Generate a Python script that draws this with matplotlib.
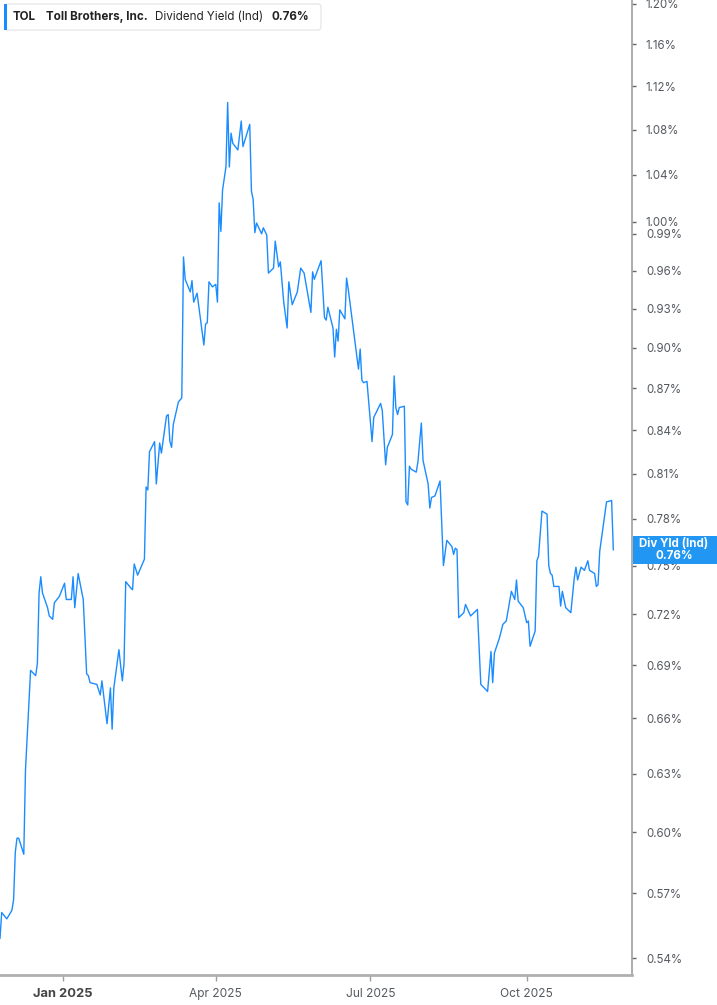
import matplotlib
matplotlib.use("Agg")
import matplotlib.pyplot as plt
from matplotlib.patches import FancyBboxPatch, Rectangle
from matplotlib.ticker import FixedLocator, FixedFormatter, NullLocator
import pandas as pd

plt.rcParams['font.family'] = ['Inter', 'DejaVu Sans']

ticker = 'TOL'
company = 'Toll Brothers, Inc.'
metric = 'Dividend Yield (Ind)'
last_label = '0.76%'

dates = [
    '2024-11-25', '2024-11-26', '2024-11-29', '2024-12-02', '2024-12-03', '2024-12-04',
    '2024-12-05', '2024-12-06', '2024-12-09', '2024-12-10', '2024-12-13', '2024-12-16',
    '2024-12-17', '2024-12-18', '2024-12-19', '2024-12-20', '2024-12-23', '2024-12-24',
    '2024-12-26', '2024-12-27', '2024-12-30', '2025-01-02', '2025-01-03', '2025-01-06',
    '2025-01-07', '2025-01-08', '2025-01-10', '2025-01-13', '2025-01-15', '2025-01-16',
    '2025-01-17', '2025-01-21', '2025-01-23', '2025-01-24', '2025-01-27', '2025-01-29',
    '2025-01-30', '2025-01-31', '2025-02-03', '2025-02-05', '2025-02-06', '2025-02-07',
    '2025-02-10', '2025-02-11', '2025-02-12', '2025-02-14', '2025-02-18', '2025-02-19',
    '2025-02-20', '2025-02-21', '2025-02-24', '2025-02-25', '2025-02-27', '2025-02-28',
    '2025-03-03', '2025-03-04', '2025-03-05', '2025-03-06', '2025-03-07', '2025-03-10',
    '2025-03-12', '2025-03-13', '2025-03-14', '2025-03-17', '2025-03-18', '2025-03-19',
    '2025-03-21', '2025-03-25', '2025-03-26', '2025-03-27', '2025-03-28', '2025-03-30',
    '2025-04-01', '2025-04-02', '2025-04-03', '2025-04-04', '2025-04-05', '2025-04-07',
    '2025-04-08', '2025-04-09', '2025-04-10', '2025-04-11', '2025-04-14', '2025-04-16',
    '2025-04-17', '2025-04-21', '2025-04-22', '2025-04-23', '2025-04-24', '2025-04-25',
    '2025-04-28', '2025-04-29', '2025-05-01', '2025-05-02', '2025-05-05', '2025-05-06',
    '2025-05-08', '2025-05-09', '2025-05-11', '2025-05-13', '2025-05-14', '2025-05-16',
    '2025-05-19', '2025-05-21', '2025-05-23', '2025-05-27', '2025-05-28', '2025-05-29',
    '2025-06-02', '2025-06-04', '2025-06-05', '2025-06-06', '2025-06-09', '2025-06-10',
    '2025-06-11', '2025-06-12', '2025-06-13', '2025-06-16', '2025-06-17', '2025-06-18',
    '2025-06-24', '2025-06-25', '2025-06-26', '2025-06-27', '2025-06-29', '2025-07-02',
    '2025-07-03', '2025-07-07', '2025-07-08', '2025-07-10', '2025-07-11', '2025-07-14',
    '2025-07-15', '2025-07-16', '2025-07-17', '2025-07-18', '2025-07-21', '2025-07-22',
    '2025-07-23', '2025-07-24', '2025-07-25', '2025-07-28', '2025-07-29', '2025-07-31',
    '2025-08-01', '2025-08-04', '2025-08-05', '2025-08-06', '2025-08-08', '2025-08-11',
    '2025-08-13', '2025-08-15', '2025-08-18', '2025-08-19', '2025-08-20', '2025-08-21',
    '2025-08-22', '2025-08-25', '2025-08-26', '2025-08-29', '2025-09-02', '2025-09-04',
    '2025-09-08', '2025-09-10', '2025-09-11', '2025-09-12', '2025-09-15', '2025-09-17',
    '2025-09-19', '2025-09-22', '2025-09-24', '2025-09-25', '2025-09-26', '2025-09-29',
    '2025-10-01', '2025-10-02', '2025-10-03', '2025-10-06', '2025-10-07', '2025-10-08',
    '2025-10-10', '2025-10-13', '2025-10-14', '2025-10-15', '2025-10-16', '2025-10-17',
    '2025-10-20', '2025-10-21', '2025-10-22', '2025-10-24', '2025-10-27', '2025-10-29',
    '2025-10-30', '2025-10-31', '2025-11-02', '2025-11-04', '2025-11-06', '2025-11-07',
    '2025-11-10', '2025-11-11', '2025-11-12', '2025-11-13', '2025-11-15', '2025-11-17',
    '2025-11-20', '2025-11-21',
]

div_yield = [
    0.549, 0.561, 0.558, 0.562, 0.567, 0.590,
    0.597, 0.597, 0.589, 0.632, 0.687, 0.684,
    0.691, 0.733, 0.743, 0.733, 0.724, 0.719,
    0.717, 0.727, 0.731, 0.739, 0.729, 0.729,
    0.743, 0.724, 0.745, 0.729, 0.685, 0.684,
    0.680, 0.679, 0.673, 0.681, 0.657, 0.677,
    0.654, 0.677, 0.699, 0.681, 0.691, 0.740,
    0.736, 0.735, 0.751, 0.744, 0.754, 0.801,
    0.799, 0.825, 0.832, 0.803, 0.831, 0.824,
    0.850, 0.851, 0.832, 0.828, 0.844, 0.860,
    0.863, 0.971, 0.953, 0.943, 0.952, 0.935,
    0.942, 0.902, 0.918, 0.919, 0.951, 0.947,
    0.949, 0.935, 1.016, 0.992, 1.027, 1.047,
    1.105, 1.047, 1.077, 1.068, 1.062, 1.088,
    1.065, 1.085, 1.026, 1.019, 0.991, 0.999,
    0.990, 0.995, 0.989, 0.958, 0.962, 0.984,
    0.963, 0.967, 0.935, 0.915, 0.951, 0.933,
    0.943, 0.962, 0.958, 0.927, 0.959, 0.953,
    0.968, 0.923, 0.921, 0.931, 0.915, 0.893,
    0.914, 0.905, 0.929, 0.922, 0.954, 0.945,
    0.884, 0.899, 0.876, 0.874, 0.875, 0.832,
    0.849, 0.859, 0.854, 0.816, 0.828, 0.837,
    0.879, 0.856, 0.851, 0.856, 0.857, 0.791,
    0.789, 0.815, 0.813, 0.811, 0.818, 0.845,
    0.819, 0.803, 0.787, 0.794, 0.795, 0.805,
    0.750, 0.766, 0.762, 0.757, 0.761, 0.760,
    0.718, 0.721, 0.726, 0.719, 0.723, 0.679,
    0.675, 0.698, 0.680, 0.697, 0.706, 0.714,
    0.716, 0.734, 0.729, 0.741, 0.728, 0.724,
    0.715, 0.716, 0.701, 0.710, 0.753, 0.756,
    0.785, 0.783, 0.750, 0.745, 0.744, 0.737,
    0.737, 0.725, 0.734, 0.724, 0.721, 0.742,
    0.749, 0.741, 0.749, 0.747, 0.753, 0.747,
    0.745, 0.737, 0.738, 0.759, 0.775, 0.791,
    0.792, 0.760,
]

y_ticks = [0.54, 0.57, 0.60, 0.63, 0.66, 0.69, 0.72, 0.75, 0.78, 0.81, 0.84,
           0.87, 0.90, 0.93, 0.96, 0.99, 1.00, 1.04, 1.08, 1.12, 1.16, 1.20]
x_ticks = ['2025-01-01', '2025-04-01', '2025-07-01', '2025-10-01']
x_labels = ['Jan 2025', 'Apr 2025', 'Jul 2025', 'Oct 2025']

line_color = '#1a8cff'
text_gray = '#555a60'

x = pd.to_datetime(dates)

fig = plt.figure(figsize=(7.17, 10.05), dpi=100)
ax = fig.add_axes([0, 30 / 1005, 632 / 717, 975 / 1005])

ax.plot(x, div_yield, color=line_color, lw=1.0)

ax.set_yscale('log')
ax.set_ylim(0.5324, 1.204)
ax.set_xlim(x[0], pd.Timestamp('2025-12-02'))

ax.yaxis.tick_right()
ax.yaxis.set_major_locator(FixedLocator(y_ticks))
ax.yaxis.set_major_formatter(FixedFormatter(['%.2f%%' % v for v in y_ticks]))
ax.yaxis.set_minor_locator(NullLocator())
ax.tick_params(axis='y', length=3, width=1, color='#666666', pad=7,
               labelsize=8.3, labelcolor=text_gray)

ax.set_xticks(pd.to_datetime(x_ticks))
ax.set_xticklabels(x_labels)
ax.tick_params(axis='x', length=4, width=1, color='#9e9e9e', pad=5,
               labelsize=8.6, labelcolor=text_gray)
first = ax.get_xticklabels()[0]
first.set_fontweight('bold')
first.set_color('#444444')
first.set_fontsize(9.3)

for side in ['left', 'top']:
    ax.spines[side].set_visible(False)
ax.spines['right'].set_color('#9e9e9e')
ax.spines['right'].set_linewidth(1.2)
ax.spines['bottom'].set_color('#b0b0b0')
ax.spines['bottom'].set_linewidth(2.0)

# header box top-left
hdr = FancyBboxPatch((5 / 717, 1 - 30 / 1005), 316 / 717, 26 / 1005,
                     boxstyle='round,pad=0,rounding_size=0.004',
                     transform=fig.transFigure, facecolor='white',
                     edgecolor='#e3e3e3', lw=0.8, zorder=5)
fig.patches.append(hdr)
fig.patches.append(Rectangle((4 / 717, 1 - 30 / 1005), 3 / 717, 26 / 1005,
                             transform=fig.transFigure, facecolor=line_color,
                             edgecolor='none', zorder=6))
ty = 1 - 17 / 1005
fig.text(13 / 717, ty, ticker, fontsize=8.4, fontweight='bold', color='#222222',
         va='center', zorder=10)
fig.text(46 / 717, ty, company, fontsize=8.4, fontweight='bold', color='#222222',
         va='center', zorder=10)
fig.text(155 / 717, ty, metric, fontsize=8.4, color='#222222', va='center', zorder=10)
fig.text(272 / 717, ty, last_label, fontsize=8.4, fontweight='bold', color='#222222',
         va='center', zorder=10)

# last-value tag on right axis
fig.patches.append(Rectangle((633 / 717, 1 - 564 / 1005), 84 / 717, 28 / 1005,
                             transform=fig.transFigure, facecolor='#2196f3',
                             edgecolor='none', zorder=6))
fig.text(674 / 717, 1 - 550 / 1005, 'Div Yld (Ind)\n' + last_label, fontsize=8.3,
         fontweight='bold', color='white', ha='center', va='center',
         linespacing=1.0, zorder=10)

fig.savefig('out.png', dpi=100)
